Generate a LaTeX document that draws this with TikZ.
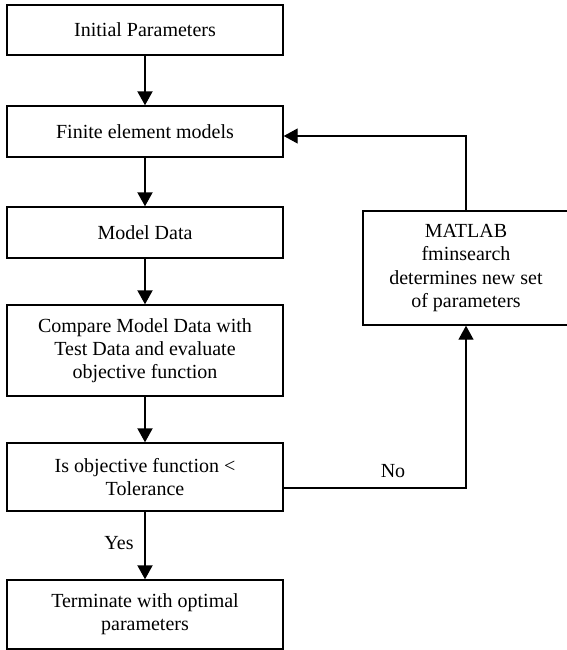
\documentclass[tikz,border=0pt]{standalone}
\usepackage{fontspec}
\setmainfont{Liberation Serif}
\usetikzlibrary{arrows.meta}

\begin{document}
\begin{tikzpicture}[x=1pt, y=-1pt, >={Triangle[length=14pt,width=15pt]},
    box/.style={draw, line width=1.4pt, align=center, inner sep=0pt, font=\fontsize{20}{23.3}\selectfont},
    flow/.style={->, line width=2pt},
    lbl/.style={font=\fontsize{20}{23.3}\selectfont}]
    \useasboundingbox (0,0) rectangle (567,650);

    \node[box, minimum width=276pt, minimum height=50pt] (init) at (145,30) {Initial Parameters};
    \node[box, minimum width=276pt, minimum height=51pt] (fem) at (145,131.5) {Finite element models};
    \node[box, minimum width=276pt, minimum height=51pt] (model) at (145,232.5) {Model Data};
    \node[box, minimum width=276pt, minimum height=91pt] (compare) at (145,350.5) {Compare Model Data with\\Test Data and evaluate\\objective function};
    \node[box, minimum width=276pt, minimum height=68pt] (test) at (145,477) {Is objective function <\\Tolerance};
    \node[box, minimum width=276pt, minimum height=69pt] (stop) at (145,614.5) {Terminate with optimal\\parameters};
    \node[box, minimum width=206pt, minimum height=114pt] (matlab) at (466,268) {MATLAB\\fminsearch\\determines new set\\of parameters};

    \draw[flow] (init) -- (fem);
    \draw[flow] (fem) -- (model);
    \draw[flow] (model) -- (compare);
    \draw[flow] (compare) -- (test);
    \draw[flow] (test) -- (stop);
    \draw[->, line width=1.3pt] ([yshift=-11pt]test.east) -| (matlab.south);
    \draw[->, line width=1.1pt] (matlab.north) |- ([yshift=-4.5pt]fem.east);

    \node[lbl] (no) at (393,471) {No};
    \node[lbl] (yes) at (119,543) {Yes};
\end{tikzpicture}
\end{document}
